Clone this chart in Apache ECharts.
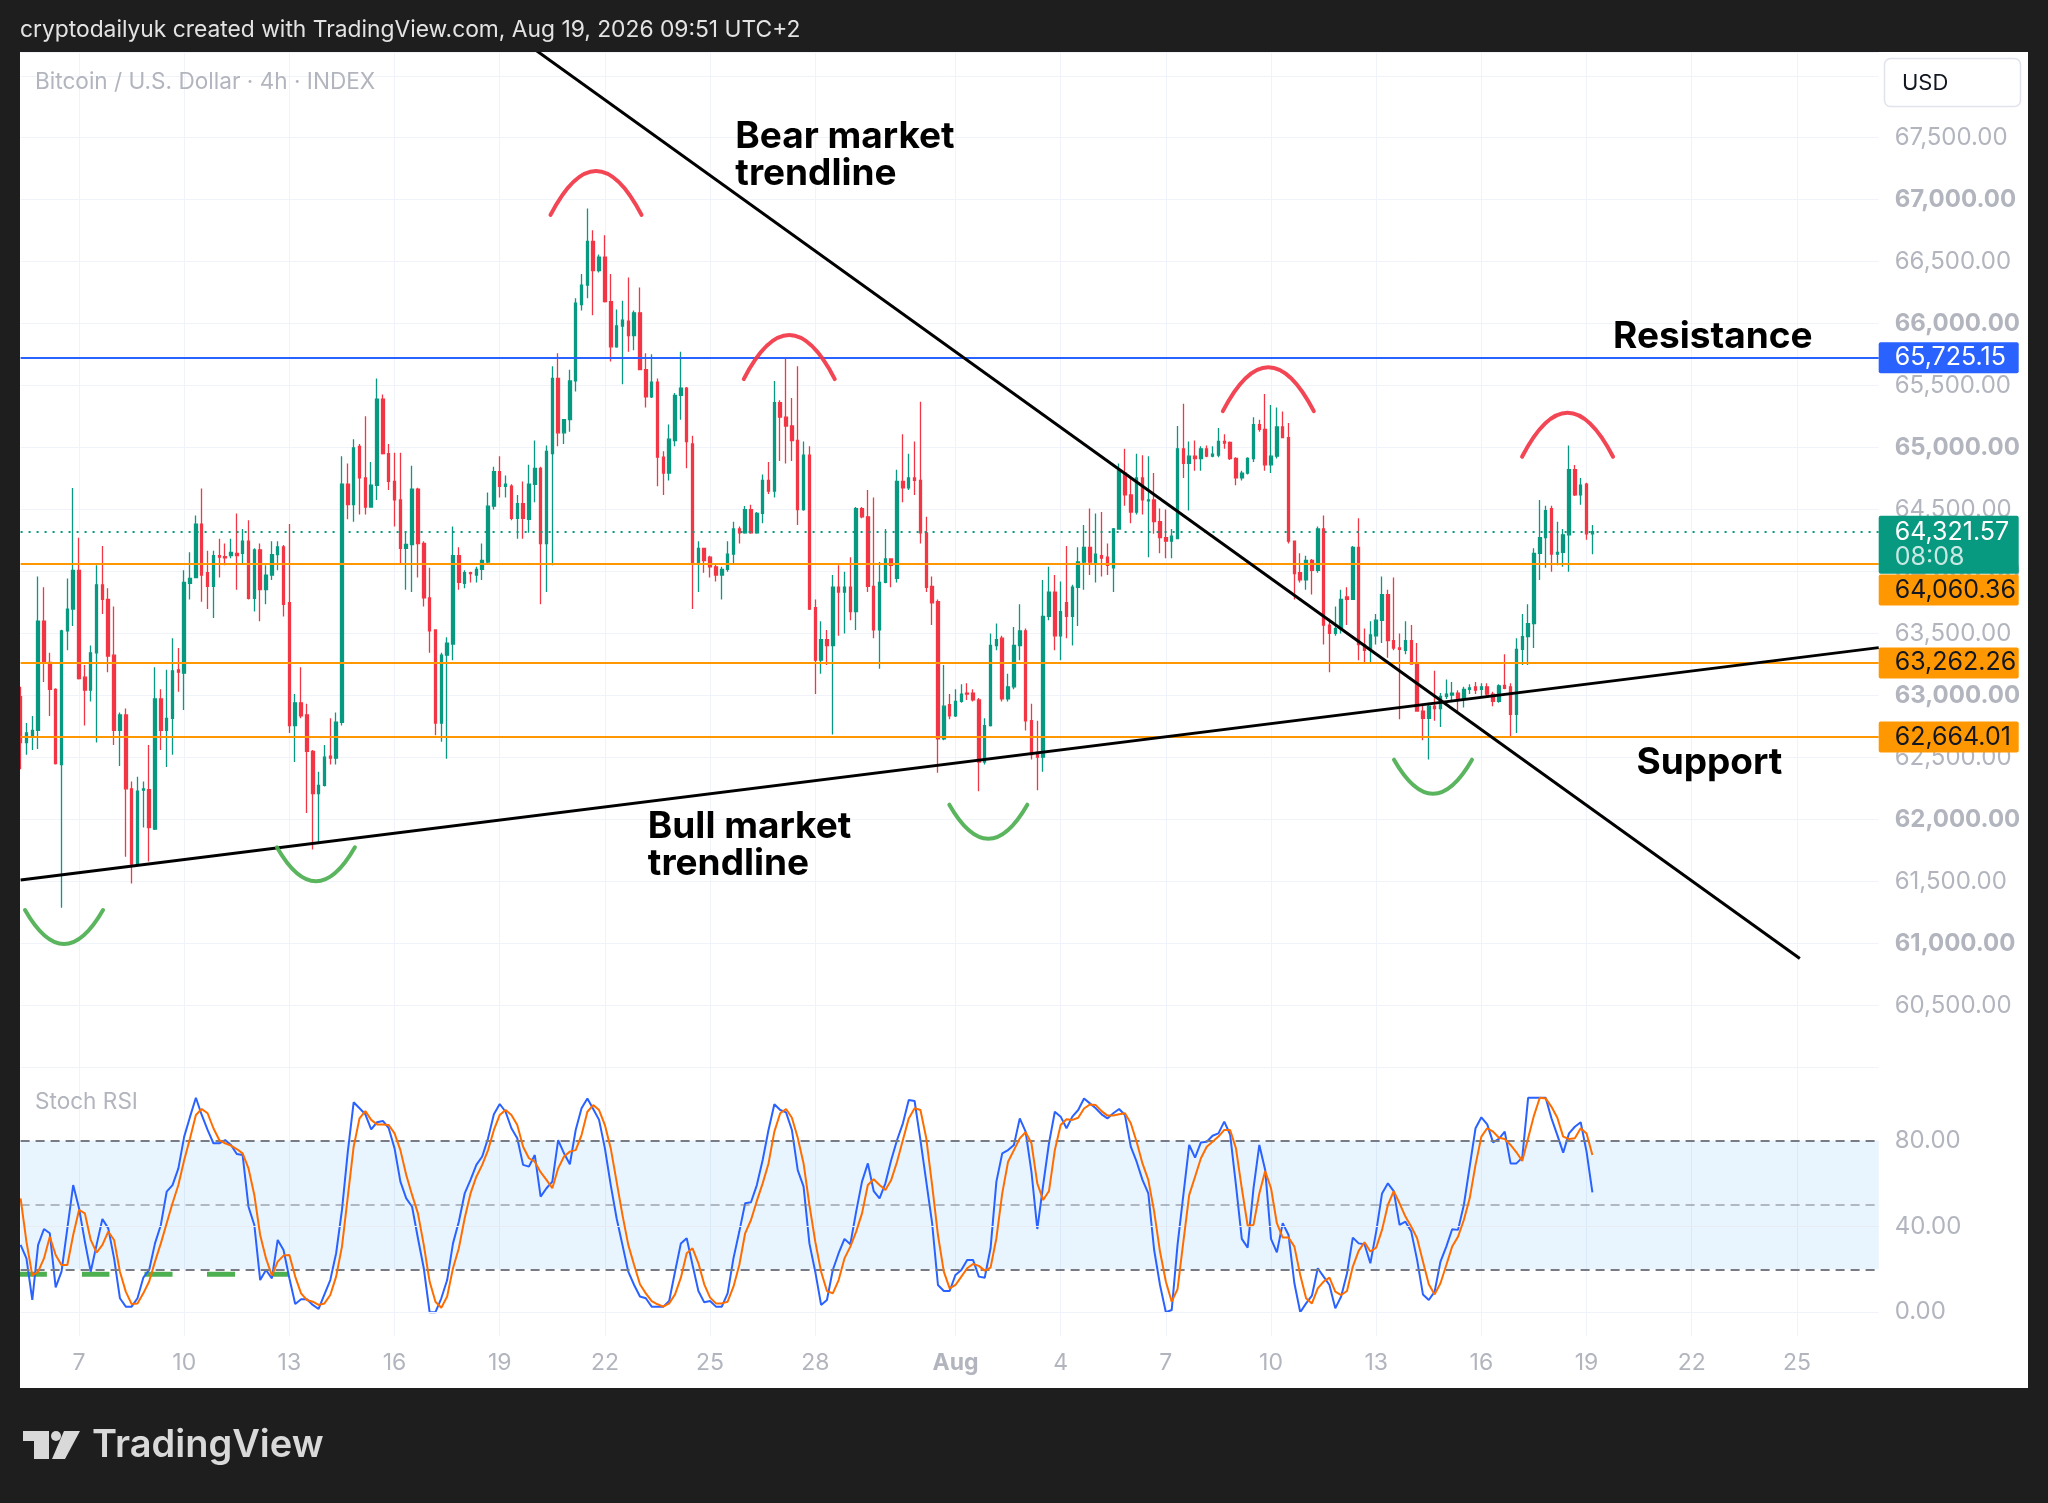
<!DOCTYPE html>
<html>
<head>
<meta charset="utf-8">
<script src="https://cdn.jsdelivr.net/npm/echarts@6/dist/echarts.min.js"></script>
<style>
html,body{margin:0;padding:0;background:#1e1e1e;}
#chart{width:2048px;height:1503px;}
</style>
</head>
<body>
<div id="chart"></div>
<script>
// ---------------- DATA ----------------
// 4h candles, first candle 2026-07-05 08:00, one value per candle
const firstSlotUTC = Date.UTC(2026, 6, 5, 8, 0);
const slotCount = 319; // axis slots incl. empty future space up to Aug 27

const openPrices = [
62991,62620,62679,62718,63599,63266,63050,62443,63521,63697,
64010,63148,63043,63344,63893,63775,63325,62718,62843,62247,
61640,62236,62240,61922,62972,62718,62816,63207,63180,63904,
63952,64383,63991,63881,64128,64120,64128,64147,64147,64245,
63783,64175,63854,63971,64136,64198,63748,62757,62941,62843,
62549,62208,62275,62510,62494,62784,64704,64539,65010,64755,
64520,64696,65390,64951,64727,64578,64187,64218,64665,64226,
63787,63529,62777,63325,63415,64128,63904,63991,63971,64018,
64077,64527,64806,64688,64688,64430,64547,64422,64704,64833,
64226,64951,65558,65119,65225,65538,66154,66310,66663,66428,
66537,66177,65813,65981,66020,65903,66087,65629,65409,65527,
64923,64794,65057,65421,65480,65029,64069,64187,64116,64038,
63971,64018,64140,64343,64312,64500,64312,64469,64735,64649,
65362,65245,65174,65057,64500,64939,63709,63285,63450,63403,
63873,63834,63873,63677,64508,64441,63881,63529,63912,64101,
63944,64727,64676,64755,64735,64312,63881,63756,62651,62925,
62835,62952,63019,63019,62964,62463,62757,63403,63462,62972,
63070,63403,63521,62796,62541,62502,63638,63834,63481,63748,
63638,63873,64077,64195,64069,64128,64116,64030,64343,64794,
64618,64480,64755,64571,64578,64402,64273,64245,64265,64990,
64872,64931,64912,64990,64931,64939,65049,65041,64912,64755,
64794,64912,65186,65147,64861,64931,65166,65080,64245,63991,
63932,64089,64010,64343,63568,63501,63540,63795,63775,64195,
63411,63364,63482,63607,63814,63442,63383,63364,63442,63254,
62874,62816,62914,62894,62992,63003,63019,62972,63050,63070,
63050,63070,63011,62952,63082,63070,62847,63372,63474,63580,
64147,64273,64508,64140,64155,64296,64821,64618,64704,64304];

const highPrices = [
63070,62777,62835,63960,63873,63344,63058,63530,63944,64673,
64273,63246,63403,64050,64206,63865,63717,62863,62894,62306,
62345,62306,62600,63227,63050,63207,63462,63383,64010,64155,
64453,64669,64167,64167,64265,64226,64265,64469,64343,64414,
64187,64226,64050,64245,64245,64214,64383,63011,63227,62933,
62561,62385,62600,62816,62863,64931,64872,65068,65029,65252,
64884,65558,65429,65029,64959,64959,64324,64853,64676,64245,
64030,63535,63344,63470,64363,64195,64010,63999,64038,64226,
64637,64845,64931,64774,64704,64618,64727,64861,65057,64845,
65017,65656,65762,65230,65629,66204,66400,66929,66753,66557,
66714,66400,66114,66185,66373,66107,66291,65762,65754,65558,
64970,65186,65440,65774,65488,65096,64245,64190,64128,64069,
64038,64245,64402,64363,64528,64539,64480,64782,64884,65538,
65382,65715,65401,65656,65049,65010,63775,63599,63529,63971,
64050,63999,64116,64520,64520,64657,64598,64077,64343,64108,
64822,65108,64951,65049,65370,64441,63960,63775,63246,63011,
63050,63090,63098,63050,62980,62816,63501,63580,63481,63176,
63552,63736,63540,62933,62796,63932,64038,63971,63920,64206,
63893,64195,64375,64508,64469,64480,64226,64351,64872,64990,
64755,64951,64939,64931,64794,64508,64500,64343,65174,65354,
65049,65057,65010,65017,65010,65158,65108,65049,64923,64814,
64923,65245,65225,65433,65343,65323,65292,65198,64250,64147,
64128,64101,64363,64453,63619,63717,63854,63873,64206,64430,
63540,63599,63658,63960,63854,63952,63501,63599,63568,63423,
62933,62941,63199,63019,63129,63109,63043,63070,63090,63109,
63098,63098,63031,63090,63333,63098,63462,63658,63736,64187,
64578,64531,64531,64402,64343,65017,64860,64755,64716,64375];

const lowPrices = [
62404,62522,62561,62569,63109,62835,62443,61287,63364,63560,
63129,62757,62952,62620,63658,63188,62600,62431,61699,61483,
61630,61934,61660,61915,62561,62423,62522,63031,62882,63775,
63950,63756,63697,63626,63952,64050,64108,63854,64069,63775,
63677,63599,63736,63932,64010,63638,62698,62463,62816,62051,
61758,61816,62265,62443,62443,62757,64422,64402,64461,64461,
64515,64578,64945,64657,64363,64069,63854,63834,63952,63717,
63344,62679,62627,62490,63285,63854,63865,63912,63912,63932,
64069,64500,64598,64598,64414,64265,64265,64312,64559,63736,
63834,64050,65010,65029,65127,65452,66107,66204,66067,66412,
66170,65695,65805,65511,65774,65785,65625,65323,65401,64688,
64618,64735,65010,65225,64833,63697,63834,63991,63952,63920,
63775,63999,64069,64226,64304,64304,64304,64390,64626,64598,
64892,64872,64892,64375,64490,63690,63011,63176,63246,62686,
63481,63501,63607,63529,64430,63834,63462,63215,63905,63873,
63912,64559,64657,64618,64226,63834,63568,62377,62639,62808,
62827,62941,62964,62952,62228,62443,62750,63364,62952,62952,
63050,63285,62718,62483,62236,62385,63607,63364,63285,63462,
63403,63560,63854,63971,63912,63960,63971,63834,64340,64531,
64390,64461,64461,64116,64304,64148,64108,64108,64260,64755,
64492,64814,64814,64923,64923,64923,64990,64900,64696,64735,
64782,64884,65127,64814,64794,64912,65076,64226,63775,63912,
63854,63814,63991,63411,63188,63482,63501,63568,63770,63285,
63266,63266,63411,63423,63305,63364,62808,63333,63250,62870,
62639,62483,62796,62745,62972,62964,62874,62902,63011,63011,
62991,62991,62914,62941,63050,62667,62698,63246,63246,63383,
63932,64030,63999,64050,64038,63999,64610,64539,64257,64140];

const closePrices = [
62620,62698,62718,63599,63266,63050,62451,63521,63697,64010,
63137,63043,63344,63893,63775,63317,62718,62843,62247,61640,
62228,62247,61934,62972,62718,62816,63199,63188,63912,63944,
64383,63971,63881,64128,64116,64110,64155,64128,64245,63783,
64175,63854,63971,64136,64198,63736,62757,62941,62835,62549,
62208,62275,62502,62494,62784,64704,64539,64998,64755,64520,
64696,65390,64951,64727,64578,64187,64218,64665,64226,63787,
63521,62777,63325,63423,64128,63912,63991,63983,64018,64089,
64527,64806,64688,64704,64430,64547,64430,64704,64833,64226,
64970,65558,65119,65225,65538,66165,66310,66663,66428,66537,
66177,65813,65981,66028,65903,66087,65629,65409,65527,64923,
64794,65068,65421,65480,65049,64069,64187,64089,64038,63971,
64018,64140,64343,64312,64500,64312,64469,64735,64649,65362,
65245,65174,65057,64500,64939,63697,63285,63450,63403,63873,
63834,63873,63677,64508,64441,63881,63529,63912,64101,64050,
64727,64676,64755,64735,64312,63873,63748,62651,62914,62835,
62952,63011,63011,62964,62463,62757,63403,63450,62972,63070,
63403,63521,62796,62522,62502,63638,63834,63481,63677,63638,
63873,64077,64195,64077,64140,64108,64050,64343,64814,64618,
64480,64755,64578,64578,64402,64273,64245,64285,64990,64872,
64931,64912,64990,64931,64947,65049,65037,64912,64755,64794,
64912,65186,65147,64861,64931,65166,65080,64245,63983,63932,
64089,64010,64343,63568,63501,63540,63775,63775,64195,63411,
63364,63489,63607,63814,63442,63383,63372,63442,63254,62874,
62816,62914,62894,62992,63011,63019,62964,63050,63062,63043,
63070,63011,62952,63078,63058,62847,63372,63474,63580,64147,
64273,64492,64140,64155,64296,64821,64618,64696,64304,64322];

const stochK = [
31.4,25.1,5.7,31.4,38.8,36.8,11.6,18.9,39.1,59.3,
48.5,32.9,18.9,31.4,43.5,39.1,25.1,6.5,2.6,2.6,
6.5,16.1,19.7,32.1,40.7,56.2,59.3,67.1,81.9,91.2,
100,92.0,85.0,78.8,78.8,80.3,78.0,73.8,73.3,49.2,
40.7,15.0,19.7,15.8,33.7,29.0,15.8,3.8,6.0,6.0,
3.4,1.5,8.3,15.0,27.5,47.7,74.9,97.9,95.1,92.3,
85.3,88.6,89.2,85.8,76.4,60.9,53.1,49.2,34.5,20.5,
0,0,6.5,15.0,32.1,42.2,55.4,61.7,68.7,72.6,
81.1,92.3,97.1,93.5,85.8,81.1,68.7,67.9,73.3,53.9,
57.8,60.9,80.3,74.1,69.0,85.0,95.1,99.7,94.8,89.7,
76.4,59.3,43.8,31.4,18.9,12.7,7.3,6.5,2.6,2.6,
2.6,5.2,18.9,32.1,34.5,22.0,9.9,4.6,5.2,2.6,
2.6,8.8,25.1,37.6,50.8,51.3,59.3,71.0,85.0,97.0,
94.3,93.2,85.0,66.3,58.6,32.1,18.9,3.4,5.7,19.7,
27.5,34.2,31.7,46.9,60.9,69.4,56.5,53.1,60.1,71.0,
80.3,88.1,99.0,98.5,80.3,60.9,41.5,12.7,9.9,9.9,
17.4,19.7,24.4,24.4,16.6,16.1,29.8,60.9,74.1,75.6,
78.0,90.4,84.2,65.5,38.8,59.3,78.8,93.5,91.2,85.8,
91.2,94.3,99.7,97.4,95.1,92.3,90.4,92.8,94.8,92.0,
77.2,70.2,61.7,55.4,29.0,12.7,0,1.0,31.4,54.7,
78.0,72.1,79.2,79.5,82.3,83.4,88.9,82.9,59.3,34.2,
30.1,57.8,78.0,66.3,34.2,27.9,41.5,36.0,13.5,0,
4.1,7.7,20.5,16.6,12.7,1.8,7.3,18.1,34.8,32.1,
31.7,22.8,37.6,55.4,60.1,56.5,40.7,42.2,37.6,24.4,
8.3,5.7,9.6,23.6,30.6,38.7,38.4,50.0,67.9,85.8,
90.9,87.6,79.2,80.8,84.2,69.4,69.4,72.1,100,100,
100,100,90.4,82.6,74.4,83.4,86.5,88.6,74.9,55.9];

const stochD = [
53.1,32.9,17.1,18.9,25.1,35.2,26.7,22.0,22.0,36.0,
47.7,46.1,33.7,27.8,31.4,37.6,33.7,18.9,9.6,3.8,
4.1,8.8,14.3,23.6,32.1,41.5,50.8,59.3,71.0,81.1,
92.0,94.8,92.8,85.8,80.3,78.8,77.7,76.1,74.1,67.1,
54.7,36.0,25.1,17.1,23.6,26.4,26.7,16.6,8.8,5.7,
4.9,3.4,4.1,8.0,16.6,30.6,53.9,77.2,90.4,93.8,
89.7,87.6,87.6,87.3,83.4,75.6,64.0,54.7,46.1,31.4,
14.3,4.9,2.1,7.3,20.5,29.8,43.8,55.4,63.2,68.7,
75.6,85.0,92.0,94.3,92.0,87.3,77.2,71.8,70.2,65.3,
61.7,57.8,67.1,72.6,74.9,75.6,82.6,93.5,96.6,94.3,
87.3,76.4,60.9,45.4,31.4,22.0,13.0,8.8,5.2,3.7,
2.6,4.1,8.3,16.1,27.5,29.8,22.8,13.0,6.8,4.1,
4.1,4.9,11.9,22.0,36.8,43.0,51.9,60.1,69.4,84.2,
92.8,94.8,90.7,81.4,69.4,50.0,32.9,18.9,9.9,8.8,
15.0,25.1,30.6,37.6,46.1,59.3,62.0,59.3,57.0,61.7,
70.2,80.3,90.4,95.1,94.3,81.1,59.3,36.0,18.9,11.1,
12.7,16.6,20.5,22.5,21.6,19.4,20.8,34.5,55.4,70.2,
75.6,81.1,83.9,78.8,60.1,52.3,56.5,75.6,87.3,90.0,
89.7,90.7,95.0,96.9,96.6,93.8,91.7,91.7,92.3,92.8,
88.1,79.5,69.4,61.7,46.9,28.3,14.3,4.9,10.8,32.9,
54.7,63.2,71.8,77.2,79.5,81.9,85.0,85.0,76.4,57.8,
40.4,40.7,55.4,65.8,57.8,41.5,34.8,34.8,30.6,17.4,
6.5,4.1,11.1,14.3,16.1,9.6,8.0,9.9,21.3,28.6,
32.6,28.3,30.1,38.4,50.0,56.5,50.8,44.6,39.9,34.5,
23.6,13.0,8.3,13.5,22.0,30.6,35.2,43.0,53.1,68.7,
81.9,85.8,84.2,81.4,80.8,78.0,74.6,70.5,81.1,91.7,
100,99.7,95.8,90.7,81.9,80.8,81.1,85.8,83.4,73.3];

// x-axis tick labels (day starts)
const tickDates = ['2026-07-07 00:00','2026-07-10 00:00','2026-07-13 00:00','2026-07-16 00:00','2026-07-19 00:00','2026-07-22 00:00','2026-07-25 00:00','2026-07-28 00:00','2026-08-01 00:00','2026-08-04 00:00','2026-08-07 00:00','2026-08-10 00:00','2026-08-13 00:00','2026-08-16 00:00','2026-08-19 00:00','2026-08-22 00:00','2026-08-25 00:00'];
const tickTexts = ['7','10','13','16','19','22','25','28','Aug','4','7','10','13','16','19','22','25'];

// horizontal levels
const resistanceLevel = 65725.15;
const supportLevels = [64060.36, 63262.26, 62664.01];
const currentPrice = 64321.57;
const countdownText = '08:08';

// trendlines (candle index from Jul 7 00:00, price)
const bullLineK = [-10, 308];
const bullLinePrice = [61511, 63386];
const bearLineK = [77, 294.5];
const bearLinePrice = [68246, 60878];

// arcs (candle index, price) : tops and bottoms
const arcTopK = [88.48, 121.55, 203.54, 254.75];
const arcTopPrice = [66877, 65553, 65294, 64926];
const arcBottomK = [-2.57, 40.54, 155.62, 231.72];
const arcBottomPrice = [61269, 61775, 62119, 62482];

// annotations
const annoTexts = ['Bear market\ntrendline', 'Resistance', 'Support', 'Bull market\ntrendline'];
const annoK = [112.32, 262.54, 266.54, 97.35];
const annoPrice = [67357, 65892, 62457, 61793];

// green marks on the Stoch RSI pane
const greenSegStart = [-10.1, 0.5, 11.2, 21.9, 33.2];
const greenSegEnd = [-5.5, 5.2, 16.0, 26.7, 35.8];
const greenSegValue = 17.7;

// ---------------- BUILD ----------------
const pad = n => (n < 10 ? '0' : '') + n;
const categories = [];
for (let i = 0; i < slotCount; i++) {
  const d = new Date(firstSlotUTC + i * 4 * 3600 * 1000);
  categories.push(d.getUTCFullYear() + '-' + pad(d.getUTCMonth() + 1) + '-' + pad(d.getUTCDate()) + ' ' + pad(d.getUTCHours()) + ':' + pad(d.getUTCMinutes()));
}
const candleData = openPrices.map((o, i) => [o, closePrices[i], lowPrices[i], highPrices[i]]);
const fmt = v => v.toLocaleString('en-US', {minimumFractionDigits: 2, maximumFractionDigits: 2});

const FONT = 'Inter, "Noto Sans", sans-serif';
const AX = '#b2b5be';
const GRIDC = '#f0f3fa';
const DARK = '#1e1e1e';
const UP = '#089981', DOWN = '#f23645';
const AXFS = 24;
const BOXFS = 25;

const isTick = (idx, val) => tickDates.indexOf(val) >= 0;

function levelLabel(text, bg, fg, dy) {
  return {
    show: true, position: 'end', distance: 0, formatter: text,
    color: fg, backgroundColor: bg, fontSize: BOXFS, fontFamily: FONT,
    padding: [4, 2, 3, 16], width: 122, lineHeight: 24, borderRadius: 2,
    offset: [0, dy]
  };
}

const levelLines = [
  {yAxis: resistanceLevel, lineStyle: {color: '#2962ff', width: 2, type: 'solid'},
   label: levelLabel(fmt(resistanceLevel), '#2962ff', '#ffffff', 0)},
  {yAxis: supportLevels[0], lineStyle: {color: '#ff9800', width: 2, type: 'solid'},
   label: levelLabel(fmt(supportLevels[0]), '#ff9800', '#131722', 26)},
  {yAxis: supportLevels[1], lineStyle: {color: '#ff9800', width: 2, type: 'solid'},
   label: levelLabel(fmt(supportLevels[1]), '#ff9800', '#131722', 0)},
  {yAxis: supportLevels[2], lineStyle: {color: '#ff9800', width: 2, type: 'solid'},
   label: levelLabel(fmt(supportLevels[2]), '#ff9800', '#131722', 0)},
  {yAxis: currentPrice, lineStyle: {color: UP, width: 2, type: [2, 6]},
   label: {
     show: true, position: 'end', distance: 0,
     formatter: '{p|' + fmt(currentPrice) + '}\n{t|' + countdownText + '}',
     backgroundColor: UP, padding: [4, 2, 4, 16], width: 122, borderRadius: 2, offset: [0, 13],
     rich: {
       p: {color: '#ffffff', fontSize: BOXFS, fontFamily: FONT, lineHeight: 25},
       t: {color: 'rgba(255,255,255,0.78)', fontSize: BOXFS, fontFamily: FONT, lineHeight: 25}
     }
   }}
];

const arcData = arcTopK.map((k, i) => [k, arcTopPrice[i], 1])
  .concat(arcBottomK.map((k, i) => [k, arcBottomPrice[i], -1]));

const chart = echarts.init(document.getElementById('chart'), null, {renderer: 'canvas', width: 2048, height: 1503});

const option = {
  animation: false,
  backgroundColor: '#ffffff',
  textStyle: {fontFamily: FONT},
  grid: [
    {left: 20.6, top: 52, width: 1858.1, height: 1015.3},
    {left: 20.6, top: 1068, width: 1858.1, height: 268}
  ],
  xAxis: [
    {type: 'category', gridIndex: 0, data: categories, boundaryGap: false,
     axisLine: {show: false}, axisTick: {show: false}, axisLabel: {show: false},
     splitLine: {show: true, interval: isTick, lineStyle: {color: GRIDC, width: 1}}},
    {type: 'category', gridIndex: 1, data: categories, boundaryGap: false,
     axisLine: {show: false}, axisTick: {show: false},
     axisLabel: {show: true, interval: isTick, margin: 16, color: AX, fontSize: 23, fontFamily: FONT,
       formatter: (val) => {
         const i = tickDates.indexOf(val);
         if (i < 0) return '';
         const t = tickTexts[i];
         return /[A-Za-z]/.test(t) ? '{b|' + t + '}' : t;
       },
       rich: {b: {fontWeight: 'bold', color: AX, fontSize: 23, fontFamily: FONT}}},
     splitLine: {show: true, interval: isTick, lineStyle: {color: GRIDC, width: 1}}},
    {type: 'value', gridIndex: 0, min: -10, max: 308, show: false},
    {type: 'value', gridIndex: 1, min: -10, max: 308, show: false}
  ],
  yAxis: [
    {type: 'value', gridIndex: 0, position: 'right', min: 60000, max: 68191.7, interval: 500,
     axisLine: {show: false}, axisTick: {show: false},
     splitLine: {show: true, lineStyle: {color: GRIDC, width: 1}},
     axisLabel: {margin: 16, color: AX, fontSize: AXFS, fontFamily: FONT,
       formatter: (v) => {
         if (v < 60500 || v > 67500) return '';
         return (v % 1000 === 0 ? '{b|' : '{n|') + fmt(v) + '}';
       },
       rich: {
         b: {fontWeight: 'bold', color: AX, fontSize: AXFS, fontFamily: FONT},
         n: {color: AX, fontSize: AXFS, fontFamily: FONT}
       }}},
    {type: 'value', gridIndex: 1, position: 'right', min: -11.1, max: 113.9,
     axisLine: {show: false}, axisTick: {show: false}, splitLine: {show: false},
     axisLabel: {margin: 16, color: AX, fontSize: AXFS, fontFamily: FONT,
       customValues: [0, 40, 80], formatter: (v) => v.toFixed(2)}}
  ],
  series: [
    {
      name: 'BTCUSD', type: 'candlestick', xAxisIndex: 0, yAxisIndex: 0,
      data: candleData, barWidth: 3, z: 3,
      itemStyle: {color: UP, color0: DOWN, borderColor: UP, borderColor0: DOWN, borderWidth: 1.3},
      markLine: {silent: true, animation: false, symbol: ['none', 'none'], data: levelLines}
    },
    {
      name: 'Bull market trendline', type: 'line', xAxisIndex: 2, yAxisIndex: 0,
      data: bullLineK.map((k, i) => [k, bullLinePrice[i]]),
      symbol: 'none', silent: true, z: 6, lineStyle: {color: '#000000', width: 3}
    },
    {
      name: 'Bear market trendline', type: 'line', xAxisIndex: 2, yAxisIndex: 0,
      data: bearLineK.map((k, i) => [k, bearLinePrice[i]]),
      symbol: 'none', silent: true, z: 6, lineStyle: {color: '#000000', width: 3}
    },
    {
      name: 'arcs', type: 'custom', xAxisIndex: 2, yAxisIndex: 0, z: 7, silent: true,
      data: arcData, encode: {x: 0, y: 1},
      renderItem: (params, api) => {
        const p = api.coord([api.value(0), api.value(1)]);
        const dir = api.value(2);
        const hw = dir > 0 ? 45.5 : 39;
        const s = dir > 0 ? 44 : 34;
        return {
          type: 'bezierCurve',
          shape: {x1: p[0] - hw, y1: p[1], x2: p[0] + hw, y2: p[1], cpx1: p[0], cpy1: p[1] - dir * 2 * s},
          style: {stroke: dir > 0 ? '#f23645' : '#4caf50', lineWidth: 4, fill: 'none', lineCap: 'round', opacity: 0.92}
        };
      }
    },
    {
      name: 'annotations', type: 'custom', xAxisIndex: 2, yAxisIndex: 0, z: 8, silent: true,
      data: annoK.map((k, i) => [k, annoPrice[i], i]), encode: {x: 0, y: 1},
      renderItem: (params, api) => {
        const p = api.coord([api.value(0), api.value(1)]);
        return {
          type: 'text', x: p[0], y: p[1],
          style: {text: annoTexts[api.value(2)], fill: '#000000', fontSize: 37, fontWeight: 'bold',
                  fontFamily: FONT, align: 'left', verticalAlign: 'middle', lineHeight: 37}
        };
      }
    },
    {
      name: 'stoch bands', type: 'line', xAxisIndex: 1, yAxisIndex: 1, data: [], z: 1, silent: true,
      markArea: {silent: true, itemStyle: {color: 'rgba(33,150,243,0.1)'}, data: [[{yAxis: 20}, {yAxis: 80}]]},
      markLine: {silent: true, animation: false, symbol: ['none', 'none'], label: {show: false},
        data: [
          {yAxis: 0, lineStyle: {color: GRIDC, width: 1, type: 'solid'}},
          {yAxis: 40, lineStyle: {color: '#e8ebf2', width: 1, type: 'solid'}},
          {yAxis: 80, lineStyle: {color: '#787b86', width: 2, type: [9, 6]}},
          {yAxis: 50, lineStyle: {color: 'rgba(120,123,134,0.5)', width: 2, type: [9, 6]}},
          {yAxis: 20, lineStyle: {color: '#787b86', width: 2, type: [9, 6]}}
        ]}
    },
    {
      name: 'green marks', type: 'custom', xAxisIndex: 3, yAxisIndex: 1, z: 2, silent: true,
      data: greenSegStart.map((s, i) => [s, greenSegEnd[i], greenSegValue]), encode: {x: [0, 1], y: 2},
      renderItem: (params, api) => {
        const a = api.coord([api.value(0), api.value(2)]);
        const b = api.coord([api.value(1), api.value(2)]);
        return {type: 'line', shape: {x1: a[0], y1: a[1], x2: b[0], y2: b[1]},
                style: {stroke: '#4caf50', lineWidth: 5}};
      }
    },
    {
      name: 'K', type: 'line', xAxisIndex: 1, yAxisIndex: 1, data: stochK, z: 4,
      symbol: 'none', silent: true, lineStyle: {color: '#2962ff', width: 2}
    },
    {
      name: 'D', type: 'line', xAxisIndex: 1, yAxisIndex: 1, data: stochD, z: 5,
      symbol: 'none', silent: true, lineStyle: {color: '#ff6d00', width: 2}
    }
  ],
  graphic: [
    {type: 'rect', z: 100, silent: true, shape: {x: 0, y: 0, width: 2048, height: 52}, style: {fill: DARK}},
    {type: 'rect', z: 100, silent: true, shape: {x: 0, y: 1388, width: 2048, height: 115}, style: {fill: DARK}},
    {type: 'rect', z: 100, silent: true, shape: {x: 0, y: 0, width: 20, height: 1503}, style: {fill: DARK}},
    {type: 'rect', z: 100, silent: true, shape: {x: 2028, y: 0, width: 20, height: 1503}, style: {fill: DARK}},
    {type: 'text', z: 101, silent: true, x: 20, y: 30,
     style: {text: 'cryptodailyuk created with TradingView.com, Aug 19, 2026 09:51 UTC+2', fill: '#e3e3e3',
             fontSize: 22.8, fontFamily: FONT, verticalAlign: 'middle'}},
    {type: 'text', z: 101, silent: true, x: 35, y: 82,
     style: {text: 'Bitcoin / U.S. Dollar · 4h · INDEX', fill: AX, fontSize: 22.6, fontFamily: FONT, verticalAlign: 'middle'}},
    {type: 'text', z: 101, silent: true, x: 35, y: 1102,
     style: {text: 'Stoch RSI', fill: AX, fontSize: 22.6, fontFamily: FONT, verticalAlign: 'middle'}},
    {type: 'rect', z: 101, silent: true, shape: {x: 1884.5, y: 58.5, width: 136, height: 48, r: 6},
     style: {fill: '#ffffff', stroke: '#e0e3eb', lineWidth: 1.5}},
    {type: 'text', z: 102, silent: true, x: 1902, y: 83,
     style: {text: 'USD', fill: '#131722', fontSize: 22, fontFamily: FONT, verticalAlign: 'middle'}},
    // TradingView logo
    {type: 'rect', z: 101, silent: true, shape: {x: 23, y: 1431, width: 26, height: 10}, style: {fill: '#d9d9d9'}},
    {type: 'rect', z: 101, silent: true, shape: {x: 34, y: 1431, width: 15, height: 28}, style: {fill: '#d9d9d9'}},
    {type: 'circle', z: 101, silent: true, shape: {cx: 56, cy: 1436, r: 5}, style: {fill: '#d9d9d9'}},
    {type: 'polygon', z: 101, silent: true, shape: {points: [[64, 1431], [80, 1431], [65, 1459], [52, 1459]]}, style: {fill: '#d9d9d9'}},
    {type: 'text', z: 101, silent: true, x: 92, y: 1446,
     style: {text: 'TradingView', fill: '#d9d9d9', fontSize: 38, fontWeight: 600, fontFamily: FONT, verticalAlign: 'middle'}}
  ]
};

chart.setOption(option);
</script>
</body>
</html>
